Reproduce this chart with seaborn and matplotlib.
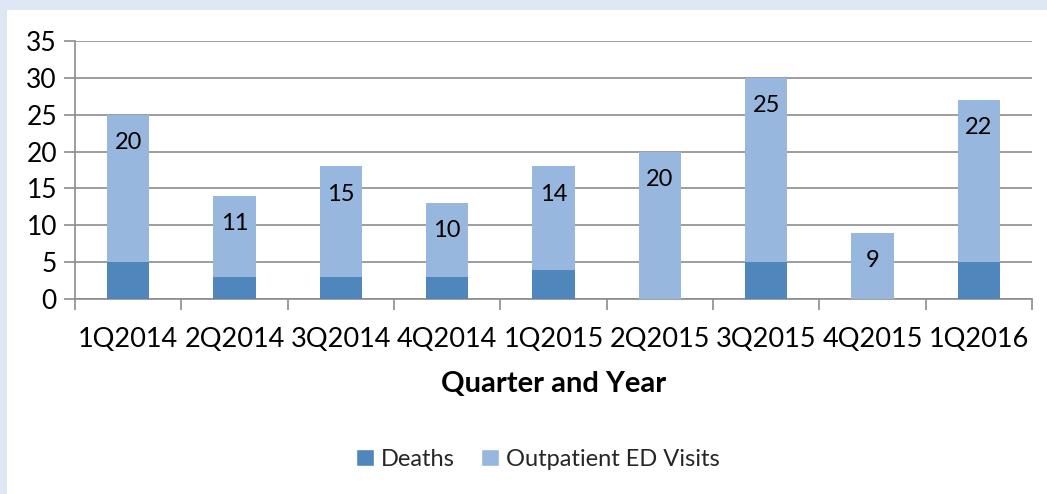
import matplotlib
matplotlib.use("Agg")
import matplotlib.pyplot as plt
import seaborn as sns
import pandas as pd
import numpy as np
from matplotlib.patches import Patch

quarters = ["1Q2014", "2Q2014", "3Q2014", "4Q2014", "1Q2015", "2Q2015", "3Q2015", "4Q2015", "1Q2016"]
deaths = [5, 3, 3, 3, 4, 0, 5, 0, 5]
ed_visits = [20, 11, 15, 10, 14, 20, 25, 9, 22]
y_ticks = [0, 5, 10, 15, 20, 25, 30, 35]

sns.set_theme(style="white")
plt.rcParams['font.family'] = ['Lato', 'DejaVu Sans']

c_deaths = "#4f87bd"
c_ed = "#97b7de"
grid_c = "#8c8c8c"

df = pd.DataFrame({"Quarter": quarters, "Deaths": deaths, "ED": ed_visits})
df["Total"] = df["Deaths"] + df["ED"]

fig = plt.figure(figsize=(10.47, 4.94), dpi=100)
fig.patch.set_facecolor("white")
# light blue frame on top and left
fig.add_artist(plt.Rectangle((0, 1 - 10 / 494), 1, 10 / 494, transform=fig.transFigure,
                             facecolor="#dde8f4", edgecolor="none", zorder=0))
fig.add_artist(plt.Rectangle((0, 0), 7 / 1047, 1, transform=fig.transFigure,
                             facecolor="#dde8f4", edgecolor="none", zorder=0))

ax = fig.add_axes([75 / 1047, 1 - 299 / 494, (1032 - 75) / 1047, (299 - 41) / 494])
ax.set_facecolor("white")

sns.barplot(data=df, x="Quarter", y="Total", color=c_ed, width=0.4, ax=ax,
            saturation=1, zorder=3, edgecolor="none")
sns.barplot(data=df, x="Quarter", y="Deaths", color=c_deaths, width=0.4, ax=ax,
            saturation=1, zorder=4, edgecolor="none")

ax.set_xlim(-0.5, len(quarters) - 0.5)
ax.set_ylim(0, 35)
ax.set_yticks(y_ticks)
ax.yaxis.grid(True, color=grid_c, linewidth=1.2, zorder=0)
ax.set_axisbelow(True)

for s in ["top", "right"]:
    ax.spines[s].set_visible(False)
ax.spines["left"].set_color(grid_c)
ax.spines["bottom"].set_color(grid_c)
ax.spines["left"].set_linewidth(1.2)
ax.spines["bottom"].set_linewidth(1.2)

ax.tick_params(axis="y", which="major", length=8, width=1.2, color=grid_c,
               labelsize=19, labelcolor="black", pad=5, left=True)
ax.tick_params(axis="x", which="major", length=0, labelsize=19.5, labelcolor="black", pad=20)
ax.set_xticks(np.arange(-0.5, len(quarters), 1.0), minor=True)
ax.tick_params(axis="x", which="minor", length=8, width=1.2, color=grid_c, bottom=True)

for i, (t, v) in enumerate(zip(df["Total"], df["ED"])):
    ax.annotate(str(v), xy=(i, t), xytext=(0, -20), textcoords="offset points",
                ha="center", va="center", fontsize=17, color="black", zorder=6)

ax.set_xlabel("Quarter and Year", fontsize=21, fontweight="bold", labelpad=14, color="black")
ax.set_ylabel("")

handles = [Patch(facecolor=c_deaths, label="Deaths"),
           Patch(facecolor=c_ed, label="Outpatient ED Visits")]
fig.legend(handles=handles, loc="center", bbox_to_anchor=(538 / 1047, 1 - 459 / 494),
           ncol=2, frameon=False, fontsize=17, handlelength=0.75, handleheight=0.75,
           handletextpad=0.3, columnspacing=1.1)

fig.savefig("out.png", dpi=100, facecolor=fig.get_facecolor())
